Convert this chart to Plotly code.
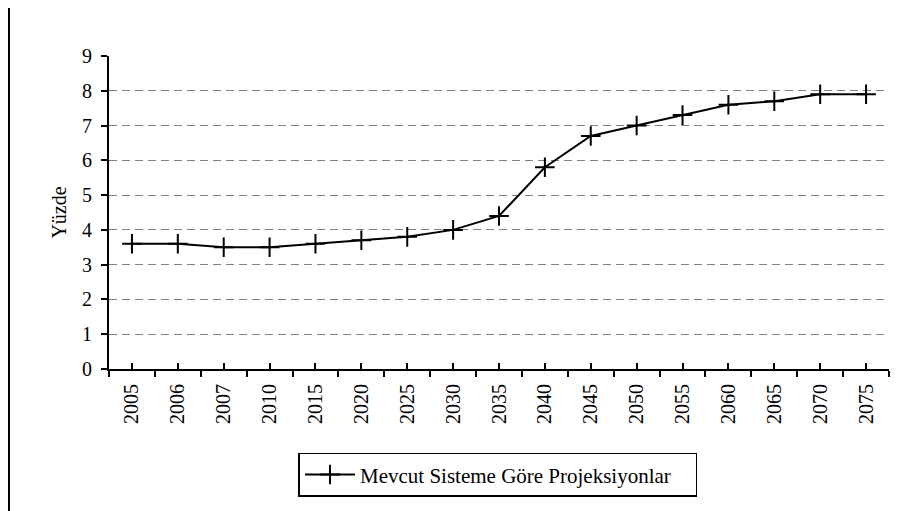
import plotly.graph_objects as go

years = ["2005", "2006", "2007", "2010", "2015", "2020", "2025", "2030", "2035",
         "2040", "2045", "2050", "2055", "2060", "2065", "2070", "2075"]
values = [3.6, 3.6, 3.5, 3.5, 3.6, 3.7, 3.8, 4.0, 4.4, 5.8, 6.7, 7.0, 7.3, 7.6, 7.7, 7.9, 7.9]
series_name = "Mevcut Sisteme Göre Projeksiyonlar"
y_title = "Yüzde"
y_ticks = [0, 1, 2, 3, 4, 5, 6, 7, 8, 9]

FONT = "Liberation Serif, Times New Roman, serif"
FS = 20

fig = go.Figure()
fig.add_trace(go.Scatter(
    x=years, y=values, name=series_name, mode="lines+markers",
    line=dict(color="black", width=2),
    marker=dict(symbol="cross-thin-open", size=14, line=dict(color="black", width=2)),
))
# invisible trace on overlay axis for inside ticks at category centres
fig.add_trace(go.Scatter(x=years, y=values, xaxis="x2", mode="none",
                         showlegend=False, hoverinfo="skip"))

fig.update_layout(
    width=908, height=511,
    margin=dict(l=101, r=27, t=48, b=150),
    paper_bgcolor="white", plot_bgcolor="white",
    font=dict(family=FONT, size=FS, color="black"),
    showlegend=True,
    legend=dict(x=0.4987, y=-0.268, xanchor="center", yanchor="top",
                orientation="h", bordercolor="black", borderwidth=1.5,
                font=dict(family=FONT, size=21), itemwidth=50,
                entrywidth=331, tracegroupgap=0),
    xaxis=dict(type="category", categoryorder="array", categoryarray=years,
               range=[-0.5, 16.5], showline=True, linecolor="black", linewidth=2,
               ticks="outside", tickson="boundaries", ticklen=6, tickwidth=2,
               tickcolor="black", tickangle=-90, showgrid=False, zeroline=False,
               ticklabelstandoff=5,
               tickfont=dict(family=FONT, size=FS)),
    xaxis2=dict(type="category", categoryorder="array", categoryarray=years,
                range=[-0.5, 16.5], overlaying="x", anchor="y", side="bottom",
                showticklabels=False, ticks="inside", ticklen=6, tickwidth=2,
                tickcolor="black", showgrid=False, showline=False, zeroline=False),
    yaxis=dict(range=[0, 9], tickvals=y_ticks, showline=True, linecolor="black",
               linewidth=2, ticks="outside", ticklen=6, tickwidth=2, tickcolor="black",
               showgrid=True, gridcolor="#808080", gridwidth=1, griddash="8px,5px",
               zeroline=False, ticklabelstandoff=5, tickfont=dict(family=FONT, size=FS),
               title=dict(text=y_title, font=dict(family=FONT, size=FS), standoff=10)),
    shapes=[dict(type="line", xref="paper", yref="paper", x0=-0.1282, x1=-0.1282,
                 y0=-0.48, y1=1.16, line=dict(color="black", width=2))],
)

fig.write_html("out.html")
